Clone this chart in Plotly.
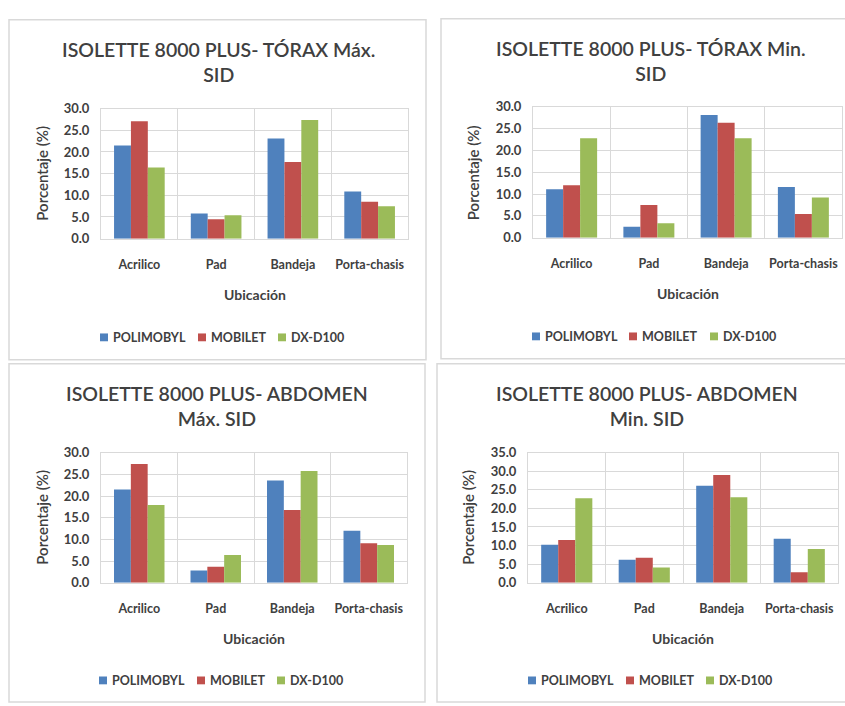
import plotly.graph_objects as go

# ---- data -------------------------------------------------------------
categories = ["Acrilico", "Pad", "Bandeja", "Porta-chasis"]
series_names = ["POLIMOBYL", "MOBILET", "DX-D100"]
series_colors = ["#4F81BD", "#C0504D", "#9BBB59"]

torax_max_polimobyl = [21.5, 5.8, 23.1, 10.9]
torax_max_mobilet = [27.1, 4.5, 17.7, 8.5]
torax_max_dx = [16.4, 5.4, 27.4, 7.5]

torax_min_polimobyl = [11.1, 2.5, 28.1, 11.6]
torax_min_mobilet = [12.0, 7.5, 26.3, 5.4]
torax_min_dx = [22.8, 3.3, 22.8, 9.2]

abdomen_max_polimobyl = [21.5, 2.8, 23.6, 12.0]
abdomen_max_mobilet = [27.4, 3.7, 16.8, 9.1]
abdomen_max_dx = [17.9, 6.4, 25.8, 8.7]

abdomen_min_polimobyl = [10.2, 6.2, 26.1, 11.8]
abdomen_min_mobilet = [11.5, 6.7, 29.0, 2.8]
abdomen_min_dx = [22.7, 4.1, 23.0, 9.1]

chart_titles = [
    "ISOLETTE 8000 PLUS- TÓRAX Máx.<br>SID",
    "ISOLETTE 8000 PLUS- TÓRAX Min.<br>SID",
    "ISOLETTE 8000 PLUS- ABDOMEN<br>Máx. SID",
    "ISOLETTE 8000 PLUS- ABDOMEN<br>Min. SID",
]
y_axis_max = [30, 30, 30, 35]
x_axis_title = "Ubicación"
y_axis_title = "Porcentaje (%)"

chart_series = [
    [torax_max_polimobyl, torax_max_mobilet, torax_max_dx],
    [torax_min_polimobyl, torax_min_mobilet, torax_min_dx],
    [abdomen_max_polimobyl, abdomen_max_mobilet, abdomen_max_dx],
    [abdomen_min_polimobyl, abdomen_min_mobilet, abdomen_min_dx],
]

# ---- layout geometry (pixels) ------------------------------------------
W, H = 845, 706
FONT = "Lato"
TEXT = "#404040"
GRID = "#D9D9D9"


def px(x):
    return x / W


def py(y):
    return 1 - y / H


# plot area [left, right, top, bottom]
plot_boxes = [
    (101, 408, 103, 236),
    (533, 842, 101, 235),
    (101, 407, 455, 588),
    (528, 838, 455, 588),
]
# outer chart frames
frames = [
    (9, 12, 426, 360),
    (441, 11, 848, 359),
    (9, 364, 425, 710),
    (437, 364, 848, 710),
]
title_pos = [(219, 55), (651, 54), (217, 407), (647, 407)]
ytitle_x = [42, 473, 42, 468]
xtitle_y = [293, 292, 645, 645]
legend_y = [337, 336, 688, 688]
legend_x = [
    (100, 198, 278),
    (532, 629, 710),
    (99, 197, 277),
    (528, 626, 706),
]

fig = go.Figure()
shapes = []
annotations = []

for i, series in enumerate(chart_series):
    n = "" if i == 0 else str(i + 1)
    for name, color, values in zip(series_names, series_colors, series):
        fig.add_trace(go.Bar(
            x=categories, y=values, name=name,
            marker=dict(color=color, line=dict(width=0)),
            xaxis="x" + n, yaxis="y" + n, showlegend=False,
        ))

    left, right, top, bottom = plot_boxes[i]
    fig.layout["xaxis" + n] = dict(
        domain=[px(left), px(right)], anchor="y" + n,
        type="category", tickson="boundaries", ticks="", tickangle=0,
        showgrid=True, gridcolor=GRID, gridwidth=1,
        showline=True, linecolor=GRID, linewidth=1, mirror=True,
        tickfont=dict(family=FONT, size=12.5, color=TEXT, weight="bold"),
        ticklabelstandoff=14, fixedrange=True,
    )
    fig.layout["yaxis" + n] = dict(
        domain=[py(bottom), py(top)], anchor="x" + n,
        range=[0, y_axis_max[i]], dtick=5, tickformat=".1f",
        showgrid=True, gridcolor=GRID, gridwidth=1,
        showline=True, linecolor=GRID, linewidth=1, mirror=True,
        zeroline=False, ticks="",
        tickfont=dict(family=FONT, size=13, color=TEXT, weight="bold"),
        ticklabelstandoff=8, fixedrange=True,
    )

    # chart frame
    fx0, fy0, fx1, fy1 = frames[i]
    shapes.append(dict(type="rect", xref="paper", yref="paper",
                       x0=px(fx0), x1=px(fx1), y0=py(fy1), y1=py(fy0),
                       line=dict(color="#D9D9D9", width=1.5), layer="below"))

    # chart title
    tx, ty = title_pos[i]
    annotations.append(dict(
        text=chart_titles[i], x=px(tx), y=py(ty), xref="paper", yref="paper",
        xanchor="center", yanchor="middle", showarrow=False,
        font=dict(family=FONT, size=19.5, color=TEXT, weight=600),
    ))
    # axis titles
    annotations.append(dict(
        text=x_axis_title, x=px((left + right) / 2), y=py(xtitle_y[i]),
        xref="paper", yref="paper", xanchor="center", yanchor="middle",
        showarrow=False, font=dict(family=FONT, size=14, color=TEXT, weight="bold"),
    ))
    annotations.append(dict(
        text=y_axis_title, x=px(ytitle_x[i]), y=py((top + bottom) / 2),
        xref="paper", yref="paper", xanchor="center", yanchor="middle",
        textangle=-90, showarrow=False,
        font=dict(family=FONT, size=15, color=TEXT, weight=600),
    ))

    # legend: square swatch + label per series
    ly = legend_y[i]
    for sx, name, color in zip(legend_x[i], series_names, series_colors):
        shapes.append(dict(type="rect", xref="paper", yref="paper",
                           x0=px(sx), x1=px(sx + 8), y0=py(ly + 4), y1=py(ly - 4),
                           fillcolor=color, line=dict(width=0)))
        annotations.append(dict(
            text=name, x=px(sx + 11), y=py(ly), xref="paper", yref="paper",
            xanchor="left", yanchor="middle", showarrow=False,
            font=dict(family=FONT, size=12.5, color=TEXT, weight="bold"),
        ))

fig.update_layout(
    width=W, height=H, margin=dict(l=0, r=0, t=0, b=0),
    paper_bgcolor="white", plot_bgcolor="white",
    barmode="group", bargap=0.34, bargroupgap=0,
    shapes=shapes, annotations=annotations, showlegend=False,
)

fig.write_html("out.html", config={"displayModeBar": False})
